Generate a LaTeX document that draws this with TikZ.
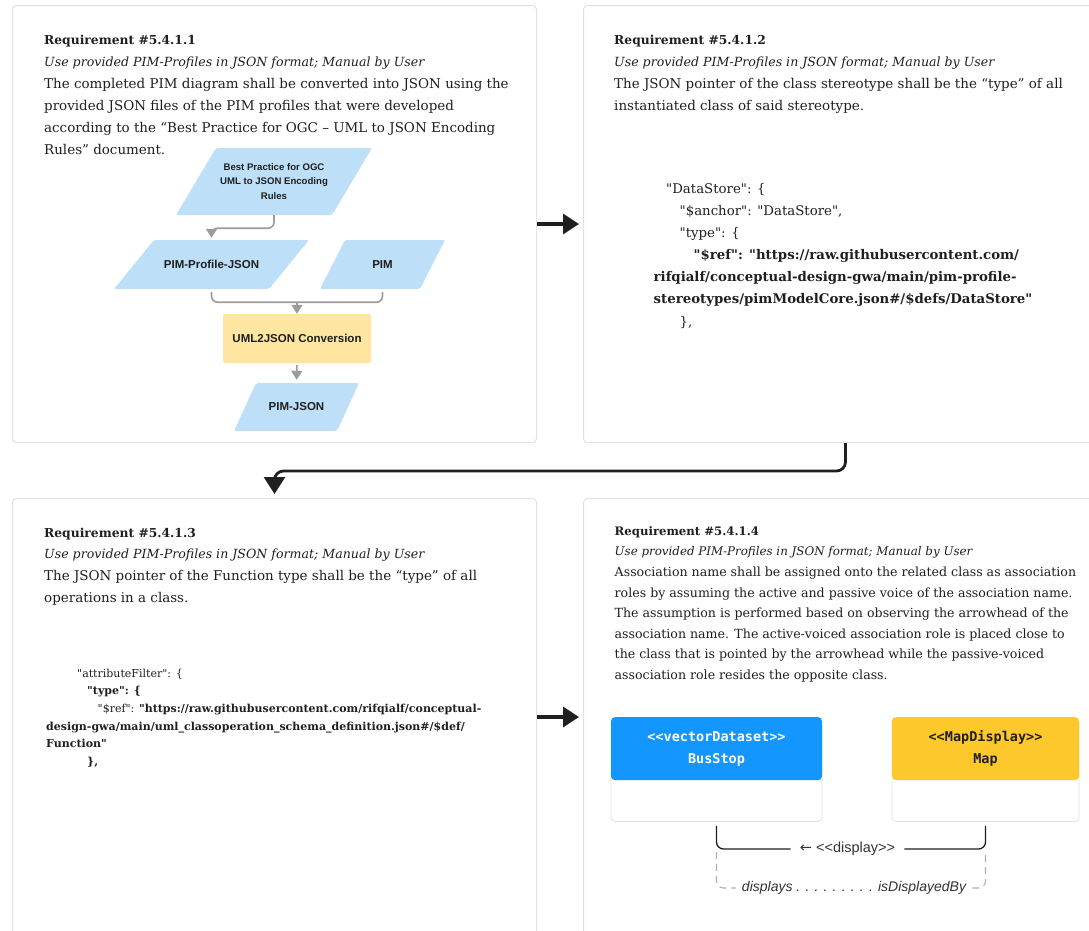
\documentclass[tikz,border=0pt]{standalone}
\usepackage{fontspec}
\setmainfont{DejaVu Serif}[Ligatures=TeXOff]
\newfontfamily\uisans{Liberation Sans}
\newfontfamily\uimono{DejaVu Sans Mono}
\newfontfamily\symfont{DejaVu Sans}
\usetikzlibrary{arrows.meta}

\definecolor{ink}{HTML}{1F1F1F}
\definecolor{panelline}{HTML}{E2E2E2}
\definecolor{flowblue}{HTML}{BDE0F8}
\definecolor{flowyellow}{HTML}{FEE6A0}
\definecolor{flowgray}{HTML}{9C9C9C}
\definecolor{clsblue}{HTML}{1396FE}
\definecolor{clsyellow}{HTML}{FDC82C}
\definecolor{assocgray}{HTML}{B0B0B0}
\definecolor{labelink}{HTML}{333333}

% text sizes
\newcommand\titlef{\fontsize{12.3}{15}\selectfont\bfseries}
\newcommand\subf{\fontsize{12.6}{15}\selectfont\itshape}
\newcommand\bodyf{\fontsize{13.45}{16}\selectfont}
\newcommand\titleff{\fontsize{11.7}{14}\selectfont\bfseries}
\newcommand\subff{\fontsize{11.85}{14}\selectfont\itshape}
\newcommand\bodyff{\fontsize{12.6}{14}\selectfont}
\newcommand\codef{\fontsize{13.3}{16}\selectfont}
\newcommand\codebf{\fontsize{13.3}{16}\selectfont\bfseries}
\newcommand\smallcodef{\fontsize{11}{13}\selectfont}

\begin{document}
\begin{tikzpicture}[x=1pt,y=-1pt,
  panel/.style={draw=panelline, line width=1pt, fill=white, rounded corners=4pt,
    minimum width=524pt, minimum height=437pt, anchor=north west, inner sep=0pt},
  ln/.style={anchor=base west, inner sep=0pt, text=ink},
  bigarrow/.style={draw=ink, line width=3.4pt, -{Triangle[length=16pt,width=20pt]}},
  turnarrow/.style={draw=ink, line width=2.8pt, rounded corners=9pt, -{Triangle[length=17pt,width=21pt]}},
  para/.style={fill=flowblue, rounded corners=2pt},
  flowtxt/.style={inner sep=0pt, align=center, text=ink, font=\uisans\bfseries\fontsize{11.5}{14}\selectfont},
  flowline/.style={draw=flowgray, line width=1.6pt, rounded corners=6pt},
  flowarrow/.style={flowline, -{Triangle[length=9pt,width=11pt]}},
  clsbody/.style={draw=panelline, line width=0.8pt, fill=white, rounded corners=4pt,
    minimum height=104pt, anchor=north, inner sep=0pt},
  clshead/.style={rounded corners=4pt, minimum height=63pt, anchor=north, inner sep=0pt,
    align=center, font=\uimono\bfseries\fontsize{13.5}{22}\selectfont},
  assoc/.style={draw=ink, line width=1.3pt, rounded corners=7pt},
  roles/.style={draw=assocgray, line width=1.1pt, rounded corners=7pt, dash pattern=on 7pt off 5pt},
]
\useasboundingbox[fill=white] (0,0) rectangle (1089,930);

% ---------- the four requirement panels ----------
\node[panel] (p1) at (12,5) {};
\node[panel] (p2) at (583,5) {};
\node[panel] (p3) at (12,498) {};
\node[panel] (p4) at (583,498) {};

% ---------- requirement 5.4.1.1 ----------
\node[ln, font=\titlef] (r1t) at (44,44.5) {Requirement \#5.4.1.1};
\node[ln, font=\subf] (r1s) at (44,66.7) {Use provided PIM-Profiles in JSON format; Manual by User};
\node[ln, font=\bodyf] (r1a) at (44,88.5) {The completed PIM diagram shall be converted into JSON using the};
\node[ln, font=\bodyf] (r1b) at (44,110.5) {provided JSON files of the PIM profiles that were developed};
\node[ln, font=\bodyf] (r1c) at (44,132.5) {according to the “Best Practice for OGC – UML to JSON Encoding};
\node[ln, font=\bodyf] (r1d) at (44,154.5) {Rules” document.};

% flow chart: parallelogram bodies
\fill[para] (176,215) -- (332,215) -- (372,148) -- (216,148) -- cycle;
\fill[para] (114,289) -- (269,289) -- (309,240) -- (154,240) -- cycle;
\fill[para] (320,289) -- (420,289) -- (445,240) -- (345,240) -- cycle;
\fill[para] (234,431) -- (337,431) -- (359,383) -- (256,383) -- cycle;

\node[flowtxt, font=\uisans\bfseries\fontsize{9.6}{14.5}\selectfont, minimum height=67pt] (bp) at (274,181.5)
  {Best Practice for OGC\\UML to JSON Encoding\\Rules};
\node[flowtxt, minimum height=49pt] (ppj) at (211.5,264.5) {PIM-Profile-JSON};
\node[flowtxt, minimum height=49pt] (pim) at (382.5,264.5) {PIM};
\node[flowtxt, fill=flowyellow, rounded corners=2pt, minimum width=148pt, minimum height=49pt] (uml) at (297,338.5) {UML2JSON Conversion};
\node[flowtxt, minimum height=48pt] (pjs) at (296.5,407) {PIM-JSON};

\draw[flowarrow, shorten >=2pt] (bp.south) -- ++(0,13) -| (ppj.north);
\draw[flowline] ([yshift=-3pt]ppj.south) -- ++(0,10) -| ([yshift=-3pt]pim.south);
\coordinate (merge) at (297,302);
\draw[flowarrow, rounded corners=0pt] (merge) -- (uml.north);
\draw[flowarrow, rounded corners=0pt, shorten >=3pt, shorten <=2pt] (uml.south) -- (pjs.north);

% ---------- requirement 5.4.1.2 ----------
\node[ln, font=\titlef] (r2t) at (614,44.5) {Requirement \#5.4.1.2};
\node[ln, font=\subf] (r2s) at (614,66.7) {Use provided PIM-Profiles in JSON format; Manual by User};
\node[ln, font=\bodyf] (r2a) at (614,88.5) {The JSON pointer of the class stereotype shall be the “type” of all};
\node[ln, font=\bodyf] (r2b) at (614,110.5) {instantiated class of said stereotype.};

\node[ln, font=\codef] (c2a) at (666,193) {"DataStore": \{};
\node[ln, font=\codef] (c2b) at (679.5,215) {"\$anchor": "DataStore",};
\node[ln, font=\codef] (c2c) at (679.5,237) {"type": \{};
\node[ln, font=\codebf] (c2d) at (693.5,259) {"\$ref": "https://raw.githubusercontent.com/};
\node[ln, font=\codebf] (c2e) at (653.5,281) {rifqialf/conceptual-design-gwa/main/pim-profile-};
\node[ln, font=\codebf] (c2f) at (653.5,303) {stereotypes/pimModelCore.json\#/\$defs/DataStore"};
\node[ln, font=\codef] (c2g) at (679.5,326) {\},};

% ---------- requirement 5.4.1.3 ----------
\node[ln, font=\titlef] (r3t) at (44,537) {Requirement \#5.4.1.3};
\node[ln, font=\subf] (r3s) at (44,558.5) {Use provided PIM-Profiles in JSON format; Manual by User};
\node[ln, font=\bodyf] (r3a) at (44,580.7) {The JSON pointer of the Function type shall be the “type” of all};
\node[ln, font=\bodyf] (r3b) at (44,602.3) {operations in a class.};

\node[ln, font=\smallcodef] (c3a) at (77,677) {"attributeFilter": \{};
\node[ln, font=\smallcodef\bfseries] (c3b) at (87,694.5) {"type": \{};
\node[ln, font=\smallcodef] (c3c) at (97.5,712) {"\$ref": \textbf{"https://raw.githubusercontent.com/rifqialf/conceptual-}};
\node[ln, font=\smallcodef\bfseries] (c3d) at (46,730) {design-gwa/main/uml\_classoperation\_schema\_definition.json\#/\$def/};
\node[ln, font=\smallcodef\bfseries] (c3e) at (46,747.5) {Function"};
\node[ln, font=\smallcodef\bfseries] (c3f) at (87,765.5) {\},};

% ---------- requirement 5.4.1.4 ----------
\node[ln, font=\titleff] (r4t) at (614.5,535.5) {Requirement \#5.4.1.4};
\node[ln, font=\subff] (r4s) at (614.5,555.7) {Use provided PIM-Profiles in JSON format; Manual by User};
\node[ln, font=\bodyff] (r4a) at (614.5,576.4) {Association name shall be assigned onto the related class as association};
\node[ln, font=\bodyff] (r4b) at (614.5,597) {roles by assuming the active and passive voice of the association name.};
\node[ln, font=\bodyff] (r4c) at (614.5,617.7) {The assumption is performed based on observing the arrowhead of the};
\node[ln, font=\bodyff] (r4d) at (614.5,638.4) {association name. The active-voiced association role is placed close to};
\node[ln, font=\bodyff] (r4e) at (614.5,658.7) {the class that is pointed by the arrowhead while the passive-voiced};
\node[ln, font=\bodyff] (r4f) at (614.5,679.4) {association role resides the opposite class.};

% UML classes
\node[clsbody, minimum width=211pt] (bsbody) at (716.5,717) {};
\node[clshead, fill=clsblue, text=white, minimum width=211pt] (bus) at (716.5,717)
  {<{}<vectorDataset>{}>\\BusStop};
\node[clsbody, minimum width=187pt] (mapbody) at (985.5,717) {};
\node[clshead, fill=clsyellow, text=ink, minimum width=187pt] (map) at (985.5,717)
  {<{}<MapDisplay>{}>\\Map};

% association and its roles
\node[inner xsep=9pt, inner ysep=0pt, text=labelink, font=\uisans\fontsize{14.5}{16}\selectfont] (assoc) at (847.5,849)
  {{\symfont ←} <{}<display>{}>};
\draw[assoc] ([yshift=-4pt]bsbody.south) |- (assoc.west);
\draw[assoc] (assoc.east) -| ([yshift=-4pt]mapbody.south);

\node[inner xsep=6pt, inner ysep=0pt, text=labelink, font=\uisans\itshape\fontsize{14}{16}\selectfont] (roles) at (854,888)
  {displays . . . . . . . . . isDisplayedBy};
\draw[roles] ([yshift=-30pt]bsbody.south) |- (roles.west);
\draw[roles] (roles.east) -| ([yshift=-30pt]mapbody.south);

% ---------- flow between the panels ----------
\draw[bigarrow, shorten >=4pt] (p1.east) -- (p2.west);
\draw[turnarrow, shorten >=4pt] (p2.south) -- ++(0,28) -| (p3.north);
\draw[bigarrow, shorten >=4pt] (p3.east) -- (p4.west);
\end{tikzpicture}
\end{document}
